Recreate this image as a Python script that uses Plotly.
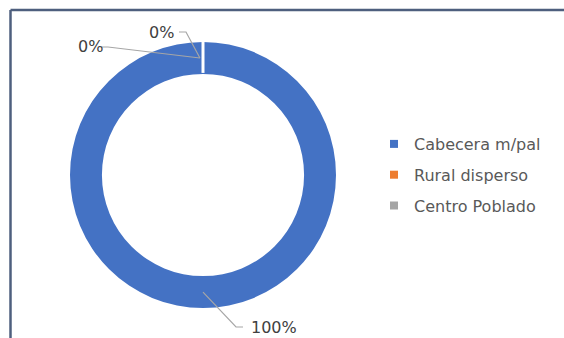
import math
import plotly.graph_objects as go

# Distribution of the population by area type
categories = ["Cabecera m/pal", "Rural disperso", "Centro Poblado"]
values = [100, 0, 0]
colors = ["#4472C4", "#ED7D31", "#A5A5A5"]

W, H = 564, 338
FONT = "DejaVu Sans"

# Donut geometry in pixels (centre and outer radius) and hole fraction
cx, cy, R = 203, 175, 133
hole = 0.76


def px(x):
    return x / W


def py(y):
    return 1 - y / H


total = sum(values)
pcts = [v / total * 100 for v in values]

fig = go.Figure()
fig.add_trace(go.Pie(
    labels=categories,
    values=values,
    hole=hole,
    sort=False,
    direction="clockwise",
    rotation=0,
    marker=dict(colors=colors, line=dict(color="white", width=0)),
    textinfo="none",
    showlegend=False,
    domain=dict(x=[px(cx - R), px(cx + R)], y=[py(cy + R), py(cy - R)]),
))

# Legend entries with small square swatches
for name, col in zip(categories, colors):
    fig.add_trace(go.Scatter(
        x=[None], y=[None], mode="markers", name=name, legendgroup=name,
        marker=dict(symbol="square", size=8, color=col),
    ))

r_mid = R * (1 + hole) / 2


def ring_point(angle_deg):
    # angle measured clockwise from 12 o'clock
    a = math.radians(angle_deg)
    return cx + r_mid * math.sin(a), cy - r_mid * math.cos(a)


# Mid angles of each slice, clockwise from the top
mids = []
acc = 0
for v in values:
    mids.append((acc + v / 2) / total * 360)
    acc += v

# Label placement: text centre, leader elbow, small angular nudge of the leader end
label_pos = [
    dict(text_xy=(274, 327), elbow=(236, 327), tweak=0.0),
    dict(text_xy=(90, 47), elbow=(108, 47), tweak=-1.5),
    dict(text_xy=(161, 33), elbow=(186, 32), tweak=-1.5),
]

shapes = []
annotations = []
for pct, mid, lp in zip(pcts, mids, label_pos):
    ex, ey = ring_point(mid + lp["tweak"])
    tx, ty = lp["text_xy"]
    bx, by = lp["elbow"]
    tail = -7 if bx > tx else 7
    path = f"M {px(ex)},{py(ey)} L {px(bx)},{py(by)} L {px(bx + tail)},{py(by)}"
    shapes.append(dict(type="path", xref="paper", yref="paper", path=path,
                       line=dict(color="#A6A6A6", width=1.2)))
    annotations.append(dict(
        x=px(tx), y=py(ty), xref="paper", yref="paper", showarrow=False,
        text=f"{pct:.0f}%", font=dict(family=FONT, size=16, color="#404040"),
        xanchor="center", yanchor="middle",
    ))

# White separator where the empty slices sit at the top
gx0, gy0 = cx, cy - R * hole - 1
gx1, gy1 = cx, cy - R - 1
shapes.append(dict(type="line", xref="paper", yref="paper",
                   x0=px(gx0), y0=py(gy0), x1=px(gx1), y1=py(gy1),
                   line=dict(color="white", width=3)))

# Chart frame (top and left edges visible)
frame = "#4E5F7E"
shapes.append(dict(type="line", xref="paper", yref="paper",
                   x0=px(10.5), y0=py(10), x1=1.0, y1=py(10),
                   line=dict(color=frame, width=2.5)))
shapes.append(dict(type="line", xref="paper", yref="paper",
                   x0=px(10.5), y0=py(10), x1=px(10.5), y1=0,
                   line=dict(color=frame, width=2.5)))

fig.update_layout(
    width=W, height=H,
    margin=dict(l=0, r=0, t=0, b=0),
    paper_bgcolor="white", plot_bgcolor="white",
    xaxis=dict(visible=False, domain=[0.99, 1.0]),
    yaxis=dict(visible=False, domain=[0.99, 1.0]),
    shapes=shapes,
    annotations=annotations,
    legend=dict(
        x=px(374), y=py(127), xanchor="left", yanchor="top",
        font=dict(family=FONT, size=16, color="#595959"),
        tracegroupgap=7, bgcolor="rgba(0,0,0,0)",
    ),
    font=dict(family=FONT),
)

fig.write_html("out.html")
